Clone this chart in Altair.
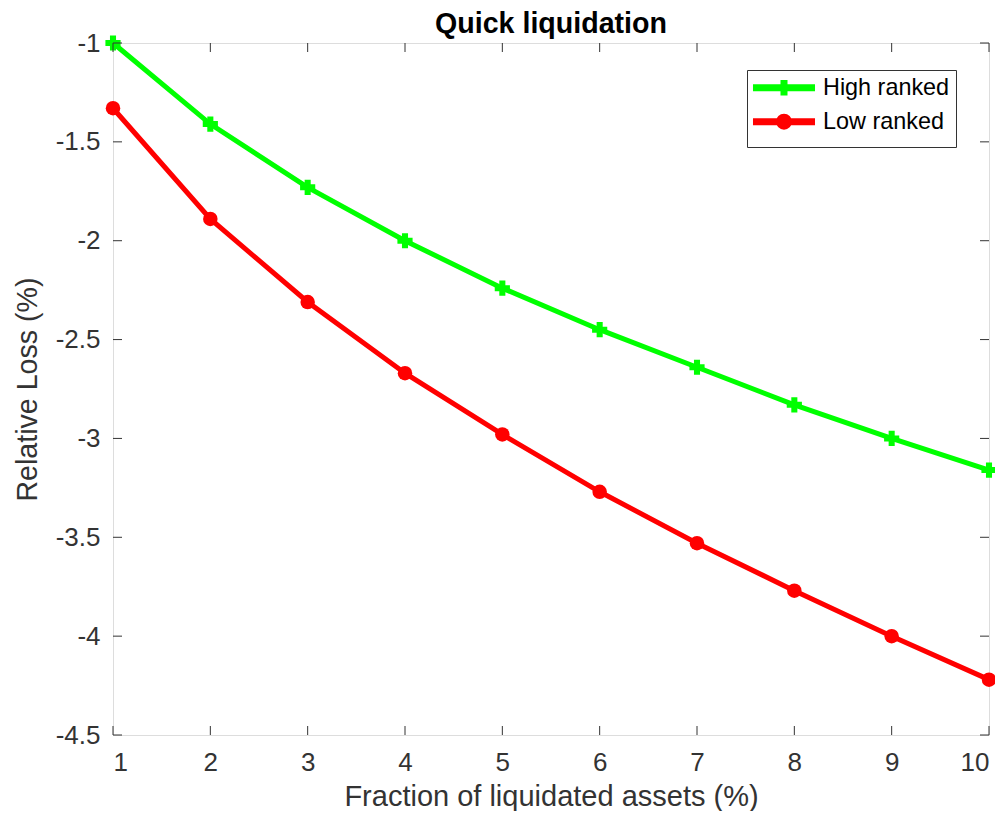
import altair as alt
import pandas as pd

# ---- data ----
x_vals = [1, 2, 3, 4, 5, 6, 7, 8, 9, 10]
high_ranked = [-1.00, -1.41, -1.73, -2.00, -2.24, -2.45, -2.64, -2.83, -3.00, -3.16]
low_ranked = [-1.33, -1.89, -2.31, -2.67, -2.98, -3.27, -3.53, -3.77, -4.00, -4.22]
series_names = ["High ranked", "Low ranked"]
series_colors = ["#00ff00", "#ff0000"]
series_shapes = ["cross", "circle"]
x_ticks = [1, 2, 3, 4, 5, 6, 7, 8, 9, 10]
y_ticks = [-4.5, -4.0, -3.5, -3.0, -2.5, -2.0, -1.5, -1.0]

W, H = 876, 692
FONT = "Liberation Sans"
AX = "#333333"
TL = 9  # inward tick length

rows = []
for name, vals in zip(series_names, [high_ranked, low_ranked]):
    for xv, yv in zip(x_vals, vals):
        rows.append({"x": xv, "y": yv, "series": name})
df = pd.DataFrame(rows)
xt = pd.DataFrame({"t": x_ticks})
yt = pd.DataFrame({"t": y_ticks})

xscale = alt.Scale(domain=[1, 10], nice=False, zero=False)
yscale = alt.Scale(domain=[-4.5, -1], nice=False, zero=False)
cscale = alt.Scale(domain=series_names, range=series_colors)

xaxis = alt.Axis(values=x_ticks, ticks=False, domain=False, grid=False,
                 labelExpr="'' + datum.value", labelFont=FONT, labelFontSize=26,
                 labelColor=AX, labelPadding=14, labelBaseline="top",
                 title="Fraction of liquidated assets (%)", titleFont=FONT,
                 titleFontSize=29, titleFontWeight="normal", titleColor=AX,
                 titleBaseline="alphabetic", titleY=70, titleX=W / 2)
yaxis = alt.Axis(values=y_ticks, ticks=False, domain=False, grid=False,
                 labelExpr="'' + datum.value", labelFont=FONT, labelFontSize=26,
                 labelColor=AX, labelPadding=13,
                 title="Relative Loss (%)", titleFont=FONT, titleFontSize=28.6,
                 titleFontWeight="normal", titleColor=AX,
                 titleBaseline="alphabetic", titleX=-77, titleY=H / 2,
                 titleAngle=-90, titleAlign="center")

# legend glyphs (line + marker), drawn as stroked paths in symbol units
high_path = "M-4.43,0H4.43M0,-1.1V1.1"
low_path = ("M-4.43,0H4.43"
            "M0.5,0A0.5,0.5 0 1,1 -0.5,0A0.5,0.5 0 1,1 0.5,0Z"
            "M0.64,0A0.64,0.64 0 1,1 -0.64,0A0.64,0.64 0 1,1 0.64,0Z")
sym_expr = f"datum.value == 'High ranked' ? '{high_path}' : '{low_path}'"

legend = alt.Legend(
    title=None, orient="none", legendX=634, legendY=27,
    symbolType={"expr": sym_expr}, symbolSize=196,
    symbolOffset=19.3, labelOffset=27.3, symbolStrokeWidth=7,
    labelFont=FONT, labelFontSize=23.4, labelColor="#000000",
    padding=6, rowPadding=-9, strokeColor=AX, fillColor="white",
    cornerRadius=0)

base = alt.Chart(df)
lines = base.mark_line(strokeWidth=5, clip=False).encode(
    x=alt.X("x:Q", scale=xscale, axis=xaxis),
    y=alt.Y("y:Q", scale=yscale, axis=yaxis),
    color=alt.Color("series:N", scale=cscale, legend=legend),
    detail="series:N",
)
high_points = base.transform_filter(
    alt.datum.series == series_names[0]
).mark_point(filled=True, opacity=1, size=230, shape=series_shapes[0],
             color=series_colors[0]).encode(x="x:Q", y="y:Q")
low_points = base.transform_filter(
    alt.datum.series == series_names[1]
).mark_point(filled=True, opacity=1, size=210, shape=series_shapes[1],
             color=series_colors[1]).encode(x="x:Q", y="y:Q")

tick_style = dict(color=AX, strokeWidth=1)
bottom_ticks = alt.Chart(xt).mark_rule(**tick_style).encode(
    x="t:Q", y=alt.value(H), y2=alt.value(H - TL))
top_ticks = alt.Chart(xt).mark_rule(**tick_style).encode(
    x="t:Q", y=alt.value(0), y2=alt.value(TL))
left_ticks = alt.Chart(yt).mark_rule(**tick_style).encode(
    y="t:Q", x=alt.value(0), x2=alt.value(TL))
right_ticks = alt.Chart(yt).mark_rule(**tick_style).encode(
    y="t:Q", x=alt.value(W), x2=alt.value(W - TL))

chart = alt.layer(
    lines, high_points, low_points,
    bottom_ticks, top_ticks, left_ticks, right_ticks
).properties(
    width=W, height=H,
    title=alt.TitleParams("Quick liquidation", font=FONT, fontSize=28.6,
                          fontWeight="bold", color="#000000", anchor="middle",
                          baseline="alphabetic", offset=-32),
    autosize=alt.AutoSizeParams(type="none"),
    padding={"left": 105, "top": 35, "right": 6, "bottom": 76},
).configure_view(stroke=AX, strokeWidth=1.2).configure(background="white")

chart.save("out.html", embed_options={"renderer": "svg", "actions": False})
